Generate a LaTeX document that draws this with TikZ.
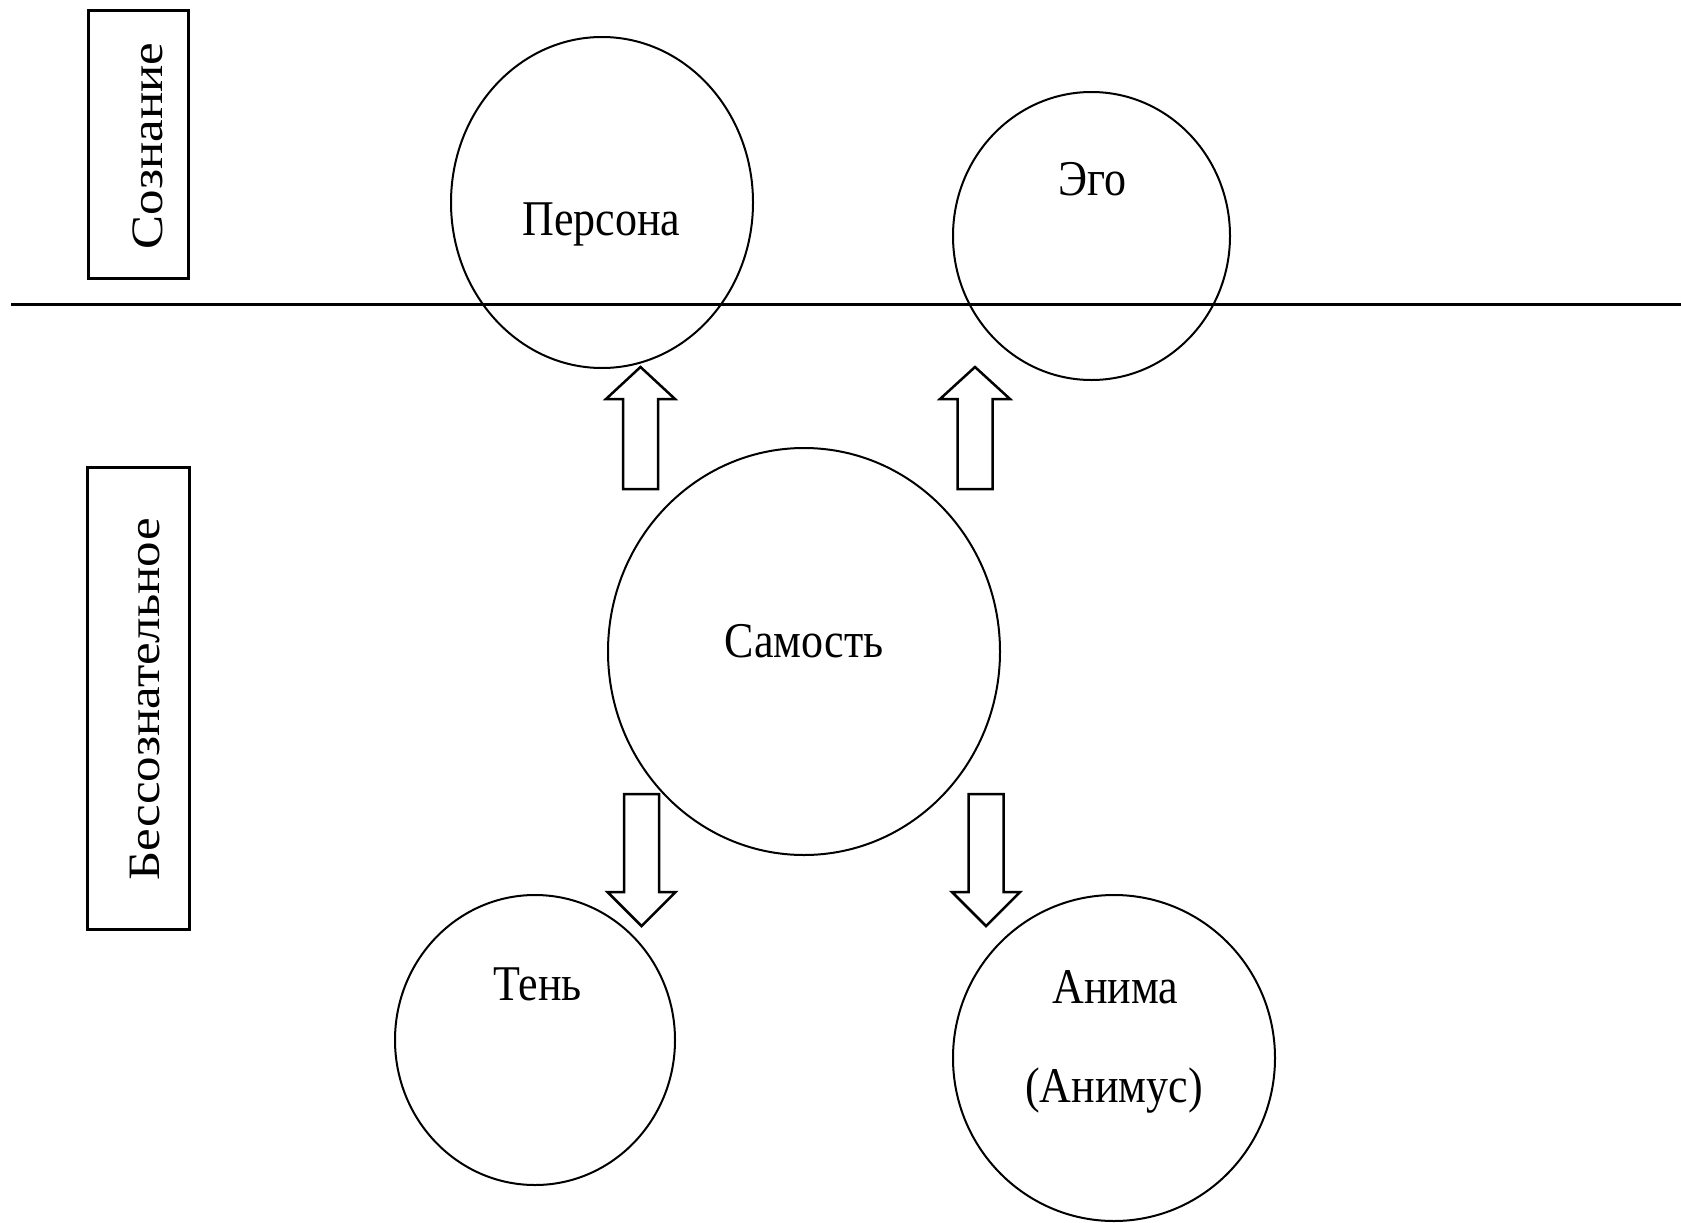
\documentclass[tikz,border=0pt]{standalone}
\usepackage{fontspec}
\setmainfont{Liberation Serif}
\usetikzlibrary{shapes.geometric}
\tikzset{
  circ/.style={ellipse, draw, line width=2pt, inner sep=0pt, outer sep=0pt},
  lbl/.style={anchor=base, inner sep=0pt, font=\fontsize{50}{60}\selectfont},
  sidelbl/.style={anchor=base, rotate=90, inner sep=0pt, font=\fontsize{51}{60}\selectfont},
  sidebox/.style={draw, line width=3pt, inner sep=0pt},
  blockarrow/.style={draw, line width=2.5pt, line join=miter, fill=white},
  divider/.style={line width=3pt}
}
\newcommand{\hs}[1]{\scalebox{0.88}[1]{#1}}
\newcommand{\vs}[1]{\scalebox{1}[0.88]{#1}}
\begin{document}
\begin{tikzpicture}[x=1pt,y=1pt]
\useasboundingbox[fill=white] (0,0) rectangle (1681,-1223);

% dividing line
\coordinate (lineL) at (11,-304);
\coordinate (lineR) at (1681,-304);
\draw[divider] (lineL) -- (lineR);

% side boxes
\node[sidebox, minimum width=100pt, minimum height=267pt] (sozbox) at (138,-144.5) {};
\node[sidelbl] (soz) at (162,-146) {\vs{Сознание}};
\node[sidebox, minimum width=102pt, minimum height=462pt] (bezbox) at (138,-698) {};
\node[sidelbl] (bez) at (159,-699.5) {\vs{Бессознательное}};

% ellipses
\node[circ, minimum width=302pt, minimum height=331pt] (persona) at (602,-202.5) {};
\node[circ, minimum width=277pt, minimum height=288pt] (ego) at (1091.5,-236) {};
\node[circ, minimum width=392pt, minimum height=407pt] (self) at (804,-651.5) {};
\node[circ, minimum width=280pt, minimum height=290pt] (shadow) at (535,-1040) {};
\node[circ, minimum width=322pt, minimum height=326pt] (anima) at (1114,-1058) {};

% labels
\node[lbl] (tpersona) at (601.5,-235) {\hs{Персона}};
\node[lbl] (tego) at (1092,-195) {\hs{Эго}};
\node[lbl] (tself) at (804,-657) {\hs{Самость}};
\node[lbl] (tshadow) at (537.5,-1000) {\hs{Тень}};
\node[lbl] (tanima) at (1115.5,-1003) {\hs{Анима}};
\node[lbl] (tanimus) at (1114,-1102) {\hs{(Анимус)}};

% block arrows up
\draw[blockarrow] (623,-489) -- (623,-399) -- (606,-399) -- (640.5,-367) -- (675,-399) -- (658,-399) -- (658,-489) -- cycle;
\draw[blockarrow] (957.5,-489) -- (957.5,-399) -- (940,-399) -- (975,-367) -- (1010,-399) -- (992.5,-399) -- (992.5,-489) -- cycle;
% block arrows down
\draw[blockarrow] (624,-794) -- (624,-892) -- (607.5,-892) -- (641.5,-926) -- (675.5,-892) -- (659,-892) -- (659,-794) -- cycle;
\draw[blockarrow] (968.5,-794) -- (968.5,-892) -- (952,-892) -- (986,-926) -- (1020,-892) -- (1003.5,-892) -- (1003.5,-794) -- cycle;
\end{tikzpicture}
\end{document}
